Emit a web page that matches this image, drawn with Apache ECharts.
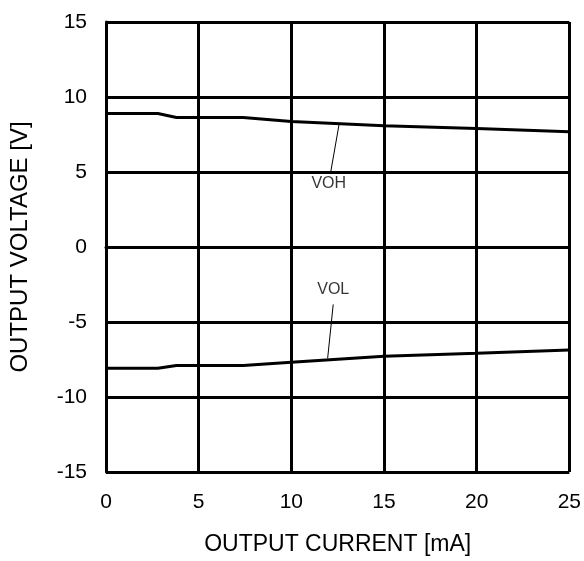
<!DOCTYPE html>
<html>
<head>
<meta charset="utf-8">
<script src="https://cdn.jsdelivr.net/npm/echarts@6/dist/echarts.min.js"></script>
<style>
html,body{margin:0;padding:0;background:#fff;}
#chart{width:584px;height:561px;}
</style>
</head>
<body>
<div id="chart"></div>
<script>
// Data
const xTicks = [0, 5, 10, 15, 20, 25];
const yTicks = [-15, -10, -5, 0, 5, 10, 15];
const vohCurrent = [0, 2.8, 3.8, 7.4, 10, 15, 20, 25];
const vohVoltage = [8.9, 8.9, 8.63, 8.63, 8.37, 8.08, 7.9, 7.68];
const volCurrent = [0, 2.8, 3.8, 7.4, 10, 15, 20, 25];
const volVoltage = [-8.08, -8.08, -7.9, -7.9, -7.69, -7.29, -7.09, -6.87];
const vohLeader = [[12.59, 8.28], [12.13, 5.03]];
const volLeader = [[11.96, -7.42], [12.26, -3.83]];
const labelNames = ['VOH', 'VOL'];
const labelPos = [[12.02, 4.2], [12.26, -2.84]];

const pair = (xs, ys) => xs.map((x, i) => [x, ys[i]]);
const font = '"Liberation Sans", Arial, sans-serif';

const chart = echarts.init(document.getElementById('chart'), null, {renderer: 'canvas'});
chart.setOption({
  animation: false,
  backgroundColor: '#fff',
  grid: {left: 106, top: 22, width: 464, height: 454, containLabel: false},
  xAxis: {
    type: 'value', min: xTicks[0], max: xTicks[xTicks.length - 1], interval: 5,
    name: 'OUTPUT CURRENT [mA]', nameLocation: 'middle', nameGap: 61,
    nameTextStyle: {fontFamily: font, fontSize: 23, color: '#000'},
    axisLine: {show: true, lineStyle: {color: '#000', width: 3}},
    axisTick: {show: false},
    axisLabel: {fontFamily: font, fontSize: 21, color: '#000', margin: 20},
    splitLine: {show: true, lineStyle: {color: '#000', width: 3}}
  },
  yAxis: {
    type: 'value', min: yTicks[0], max: yTicks[yTicks.length - 1], interval: 5,
    name: 'OUTPUT VOLTAGE [V]', nameLocation: 'middle', nameGap: 74, nameRotate: 90,
    nameTextStyle: {fontFamily: font, fontSize: 24, color: '#000'},
    axisLine: {show: true, lineStyle: {color: '#000', width: 3}},
    axisTick: {show: false},
    axisLabel: {fontFamily: font, fontSize: 21, color: '#000', margin: 19},
    splitLine: {show: true, lineStyle: {color: '#000', width: 3}}
  },
  series: [
    {type: 'line', data: pair(vohCurrent, vohVoltage), symbol: 'none',
     lineStyle: {color: '#000', width: 3}, z: 5},
    {type: 'line', data: pair(volCurrent, volVoltage), symbol: 'none',
     lineStyle: {color: '#000', width: 3}, z: 5},
    {type: 'line', data: vohLeader, symbol: 'none',
     lineStyle: {color: '#000', width: 1}, z: 6},
    {type: 'line', data: volLeader, symbol: 'none',
     lineStyle: {color: '#000', width: 1}, z: 6},
    {type: 'scatter', symbolSize: 0, z: 7,
     data: labelPos.map((p, i) => ({value: p, name: labelNames[i]})),
     label: {show: true, position: 'inside', formatter: '{b}',
             fontFamily: font, fontSize: 16, color: '#000',
             backgroundColor: '#fff', padding: [0, 1]}}
  ]
});
</script>
</body>
</html>
